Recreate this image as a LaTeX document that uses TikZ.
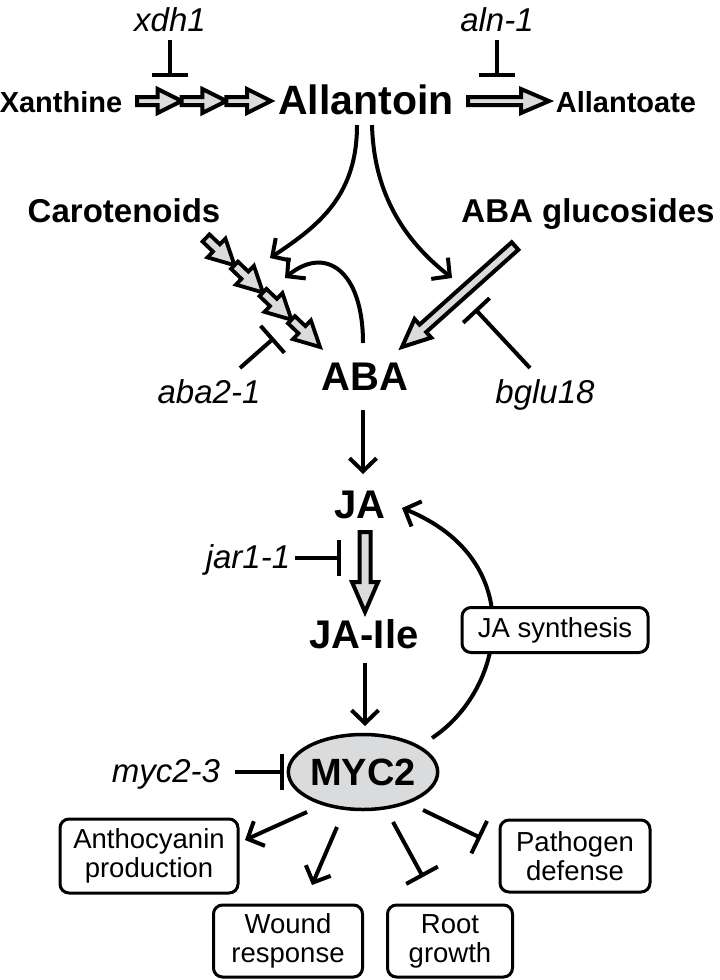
\documentclass[tikz,border=0pt]{standalone}
\usepackage{fontspec}
\setmainfont{Liberation Sans}
\usetikzlibrary{arrows.meta,calc,shapes.geometric}
\definecolor{hgray}{HTML}{DADBDD}
\tikzset{
  lab/.style={font=\bfseries\fontsize{#1}{#1}\selectfont, inner sep=0pt, anchor=base},
  gene/.style={font=\itshape\fontsize{33}{33}\selectfont, inner sep=0pt, anchor=base},
  outbox/.style={draw, line width=3pt, rounded corners=9pt, fill=white, align=center,
    inner sep=0pt, font=\fontsize{27.5}{29}\selectfont},
  act/.style={line width=4pt, -{Straight Barb[length=13pt,width=27pt]}},
  inh/.style={line width=4pt, -{Bar[width=36pt]}},
  hollow/.style={draw, line width=4pt, fill=hgray, line join=miter},
}
\newcommand\hollowarrow[5]{%
  \coordinate (hh) at ($(#2)!#5!(#1)$);
  \draw[hollow] ($(#1)!#3!90:(#2)$) -- ($(hh)!#3!90:(#2)$) -- ($(hh)!#4!90:(#2)$) -- (#2)
    -- ($(hh)!#4!-90:(#2)$) -- ($(hh)!#3!-90:(#2)$) -- ($(#1)!#3!-90:(#2)$) -- cycle;}
\begin{document}
\begin{tikzpicture}[x=1pt,y=-1pt]
\useasboundingbox (0,0) rectangle (720,980);
% text nodes
\node[gene] (xdh) at (170,31) {xdh1};
\node[gene] (aln) at (497,31) {aln-1};
\node[lab=29] (xan) at (61,112) {Xanthine};
\node[lab=41] (allo) at (366,114) {Allantoin};
\node[lab=29] (allt) at (626,112) {Allantoate};
\node[lab=33] (car) at (124,222) {Carotenoids};
\node[lab=33] (glu) at (588,222) {ABA glucosides};
\node[lab=40] (aba) at (365,390) {ABA};
\node[gene] (aba2) at (209,403) {aba2-1};
\node[gene] (bglu) at (545,403) {bglu18};
\node[lab=40] (ja) at (360,518) {JA};
\node[gene] (jar) at (248,568) {jar1-1};
\node[lab=40] (jaile) at (364,648) {JA-Ile};
\node[ellipse, draw, line width=3.5pt, fill=hgray, minimum width=143pt, minimum height=75pt,
  inner sep=0pt, font=\bfseries\fontsize{38}{38}\selectfont] (myc) at (363,772) {MYC2};
\node[gene] (myc23) at (166,782) {myc2-3};
% coordinates
\coordinate (xdhA) at (170,40); \coordinate (xdhB) at (170,77);
\coordinate (alnA) at (497,40); \coordinate (alnB) at (497,77);
\coordinate (x0) at (137,101); \coordinate (x1) at (181.7,101);
\coordinate (x2) at (226.3,101); \coordinate (x3) at (271,101);
\coordinate (a0) at (468,101); \coordinate (a1) at (549,101);
\coordinate (k0) at (206,238); \coordinate (k1) at (234.5,265.25);
\coordinate (k2) at (263,292.5); \coordinate (k3) at (291.5,319.75); \coordinate (k4) at (320,347);
\coordinate (g0) at (515,246); \coordinate (g1) at (402,347);
\coordinate (l1s) at (357,125); \coordinate (l1e) at (270,258);
\coordinate (l2s) at (372,125); \coordinate (l2e) at (452,278);
\coordinate (l3s) at (363,343); \coordinate (l3e) at (285,278);
\coordinate (ab2s) at (240,368); \coordinate (ab2e) at (274,338);
\coordinate (bgs) at (530,368); \coordinate (bge) at (475,309);
\coordinate (abaS) at (363,410); \coordinate (jaN) at (363,474);
\coordinate (j0) at (365,532); \coordinate (j1) at (365,612);
\coordinate (jarS) at (295,558); \coordinate (jarE) at (341,558);
\coordinate (ileS) at (365,663); \coordinate (mycN) at (365,726);
\coordinate (jsS) at (432,738); \coordinate (jaR) at (402,508);
\coordinate (m23S) at (235,772); \coordinate (m23E) at (284,772);
\coordinate (mA) at (307,812); \coordinate (antE) at (245,840);
\coordinate (mW) at (337,827); \coordinate (wE) at (312,885);
\coordinate (mR) at (393,822); \coordinate (rE) at (423,877);
\coordinate (mP) at (423,810); \coordinate (pE) at (481,838);
% inhibitors
\draw[inh] (xdhA) -- (xdhB);
\draw[inh] (alnA) -- (alnB);
\draw[inh] (ab2s) -- (ab2e);
\draw[inh] (bgs) -- (bge);
\draw[inh] (jarS) -- (jarE);
\draw[inh] (m23S) -- (m23E);
\draw[inh] (mR) -- (rE);
\draw[inh] (mP) -- (pE);
% hollow arrows
\hollowarrow{x0}{x1}{4pt}{12pt}{24pt}
\hollowarrow{x1}{x2}{4pt}{12pt}{24pt}
\hollowarrow{x2}{x3}{4pt}{12pt}{24pt}
\hollowarrow{a0}{a1}{4pt}{12pt}{28pt}
\begin{scope}[hollow/.append style={line width=3.8pt}]
\hollowarrow{k0}{k1}{5pt}{13pt}{25pt}
\hollowarrow{k1}{k2}{5pt}{13pt}{25pt}
\hollowarrow{k2}{k3}{5pt}{13pt}{25pt}
\hollowarrow{k3}{k4}{5pt}{13pt}{25pt}
\end{scope}
\hollowarrow{g0}{g1}{5pt}{12.5pt}{28pt}
\hollowarrow{j0}{j1}{5.5pt}{13pt}{30pt}
% curves
\draw[act] (l1s) .. controls (357,195) and (320,225) .. (l1e);
\draw[act] (l2s) .. controls (374,200) and (410,245) .. (l2e);
\draw[act] (l3s) .. controls (363,270) and (325,245) .. (l3e);
\draw[act] (abaS) -- (jaN);
\draw[act] (ileS) -- (mycN);
\draw[act] (jsS) .. controls (505,690) and (530,560) .. (jaR);
\draw[act] (mA) -- (antE);
\draw[act] (mW) -- (wE);
% boxes
\node[outbox, minimum width=186pt, minimum height=45pt] (jas) at (555,630) {JA synthesis};
\node[outbox, minimum width=178pt, minimum height=74pt] (ant) at (149,856) {Anthocyanin\\production};
\node[outbox, minimum width=149pt, minimum height=72pt] (wnd) at (288,941) {Wound\\response};
\node[outbox, minimum width=125pt, minimum height=72pt] (rt) at (450,941) {Root\\growth};
\node[outbox, minimum width=150pt, minimum height=72pt] (pth) at (575,856) {Pathogen\\defense};
\end{tikzpicture}
\end{document}
